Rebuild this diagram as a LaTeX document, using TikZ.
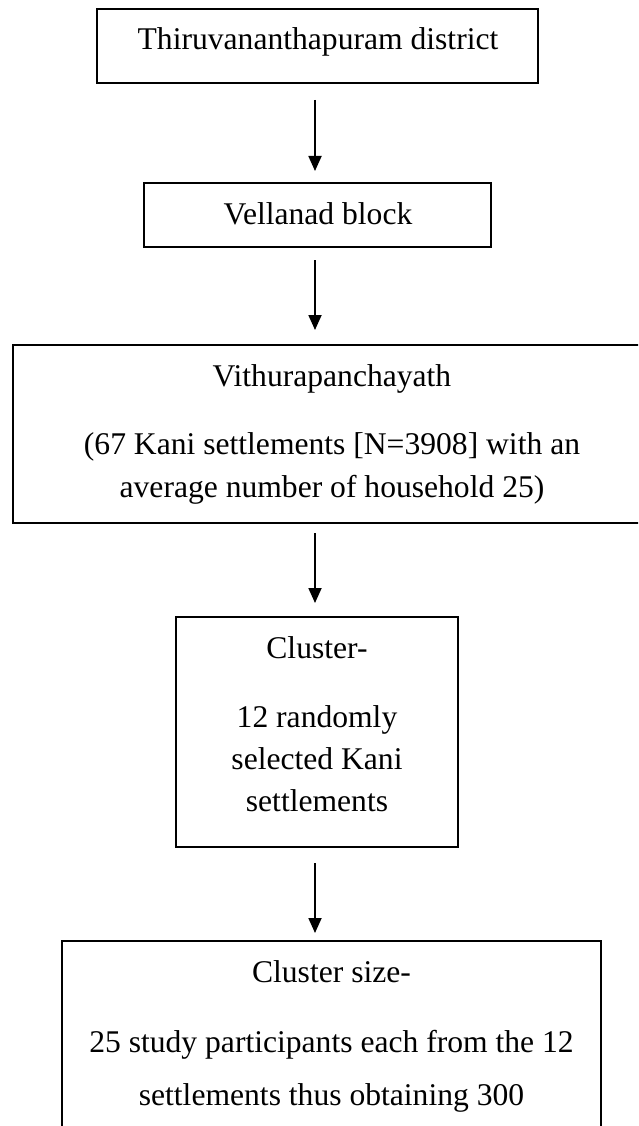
\documentclass[tikz,border=0pt]{standalone}
\usepackage{fontspec}
\setmainfont{Liberation Serif}
\usetikzlibrary{arrows.meta,calc}
\begin{document}
\begin{tikzpicture}[x=1pt,y=-1pt,
  boxshape/.style={draw,line width=1.8pt,inner sep=0pt,outer sep=0pt},
  txt/.style={font=\fontsize{31.6}{42}\selectfont,anchor=base,inner sep=0pt},
  arr/.style={line width=1.8pt,-{Triangle[length=15pt,width=13pt]}}]
\useasboundingbox (0,0) rectangle (638,1126);
\fill[white] (0,0) rectangle (638,1126);
\clip (0,0) rectangle (638,1126);
% boxes
\node[boxshape, minimum width=441pt, minimum height=74pt] (b1) at (317.5,46) {};
\node[boxshape, minimum width=347pt, minimum height=64pt] (b2) at (317.5,215) {};
\node[boxshape, minimum width=636pt, minimum height=178pt] (b3) at (331,434) {};
\node[boxshape, minimum width=282pt, minimum height=230pt] (b4) at (317,732) {};
\node[boxshape, minimum width=539pt, minimum height=229pt] (b5) at (331.5,1055.5) {};
% texts
\node[txt] (t1) at (318,50) {Thiruvananthapuram district};
\node[txt] (t2) at (318,224) {Vellanad block};
\node[txt] (t3a) at (332,386) {Vithurapanchayath};
\node[txt] (t3b) at (332,454) {(67 Kani settlements [N=3908] with an};
\node[txt] (t3c) at (332,497) {average number of household 25)};
\node[txt] (t4a) at (317,658) {Cluster-};
\node[txt] (t4b) at (317,727) {12 randomly};
\node[txt] (t4c) at (317,769) {selected Kani};
\node[txt] (t4d) at (317,811) {settlements};
\node[txt] (t5a) at (331.5,982) {Cluster size-};
\node[txt] (t5b) at (331.5,1052) {25 study participants each from the 12};
\node[txt] (t5c) at (331.5,1105) {settlements thus obtaining 300};
% arrows
\draw[arr] ($(b1.south)+(-2.5,17)$) -- ($(b2.north)+(-2.5,-12)$);
\draw[arr] ($(b2.south)+(-2.5,13)$) -- ($(b3.north)+(-16,-15)$);
\draw[arr] ($(b3.south)+(-16,10)$) -- ($(b4.north)+(-2,-14)$);
\draw[arr] ($(b4.south)+(-2,16)$) -- ($(b5.north)+(-16.5,-8)$);
\end{tikzpicture}
\end{document}
